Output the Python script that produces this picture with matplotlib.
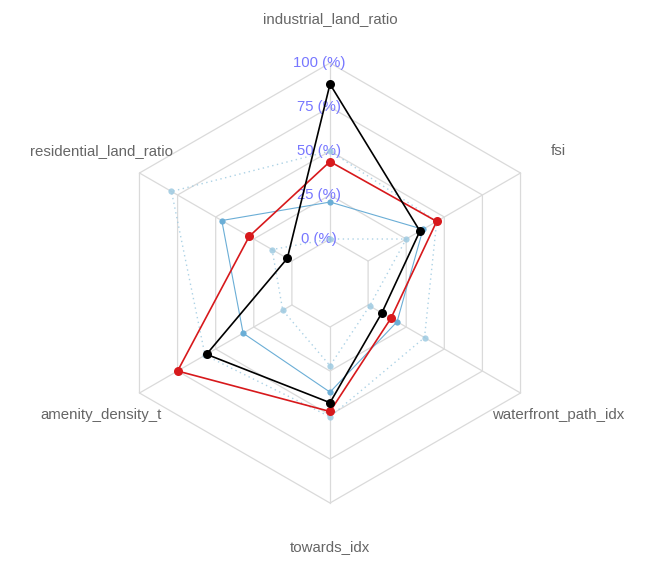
import numpy as np
import matplotlib.pyplot as plt

# axes of the radar, counter-clockwise from the top
variables = ["industrial_land_ratio", "residential_land_ratio", "amenity_density_t",
             "towards_idx", "waterfront_path_idx", "fsi"]
ring_labels = ["0 (%)", "25 (%)", "50 (%)", "75 (%)", "100 (%)"]

# values in percent
upper_band = [50, 79, 57, 51, 37, 45]
lower_band = [0, 13, 6, 22, 1, 25]
group_mean = [21, 46, 32, 37, 19, 36]
district_a = [44, 28, 75, 48, 15, 45]
district_b = [88, 3, 56, 43, 9, 34]

plt.rcParams["font.family"] = ["Liberation Sans", "DejaVu Sans"]

n = len(variables)
seg = 4
theta = np.pi / 2 + 2 * np.pi * np.arange(n) / n
xx, yy = np.cos(theta), np.sin(theta)


def radius(vals):
    # fmsb style: the minimum sits on the innermost ring, not at the centre
    v = np.asarray(vals, dtype=float) / 100.0
    return (1 + seg * v) / (seg + 1)


fig = plt.figure(figsize=(6.47, 5.61), dpi=100)
ax = fig.add_axes([0, 0, 1, 1])
ax.set_xlim(-1.5, 1.4409)
ax.set_ylim(-1.2636, 1.2864)
ax.axis("off")

grid_col = "#dadada"
for i in range(seg + 1):
    f = (i + 1) / (seg + 1)
    ax.plot(np.append(xx, xx[0]) * f, np.append(yy, yy[0]) * f,
            color=grid_col, lw=0.9, zorder=1)
    ax.text(-0.05, f, ring_labels[i], color="#7777ff", fontsize=10.7,
            ha="center", va="center", zorder=2)
for k in range(n):
    ax.plot([xx[k] / (seg + 1), xx[k]], [yy[k] / (seg + 1), yy[k]],
            color=grid_col, lw=0.9, zorder=1)
    ax.text(xx[k] * 1.2, yy[k] * 1.2, variables[k], color="#666666",
            fontsize=10.8, ha="center", va="center")


def draw(vals, color, lw, ls, ms, alpha=1.0, z=3):
    r = radius(vals)
    px, py = r * xx, r * yy
    ax.plot(np.append(px, px[0]), np.append(py, py[0]), color=color, lw=lw,
            ls=ls, alpha=alpha, zorder=z)
    ax.plot(px, py, "o", color=color, ms=ms, mec="none", alpha=alpha, zorder=z)


draw(upper_band, "#9ecae1", 1.0, (0, (1, 2.5)), 4.5, alpha=0.85)
draw(lower_band, "#9ecae1", 1.0, (0, (1, 2.5)), 4.5, alpha=0.85)
draw(group_mean, "#6baed6", 0.8, "-", 4.5, z=4)
draw(district_a, "#d7191c", 1.2, "-", 6.5, z=5)
draw(district_b, "#000000", 1.2, "-", 6.5, z=6)

fig.savefig("out.png", dpi=100)
